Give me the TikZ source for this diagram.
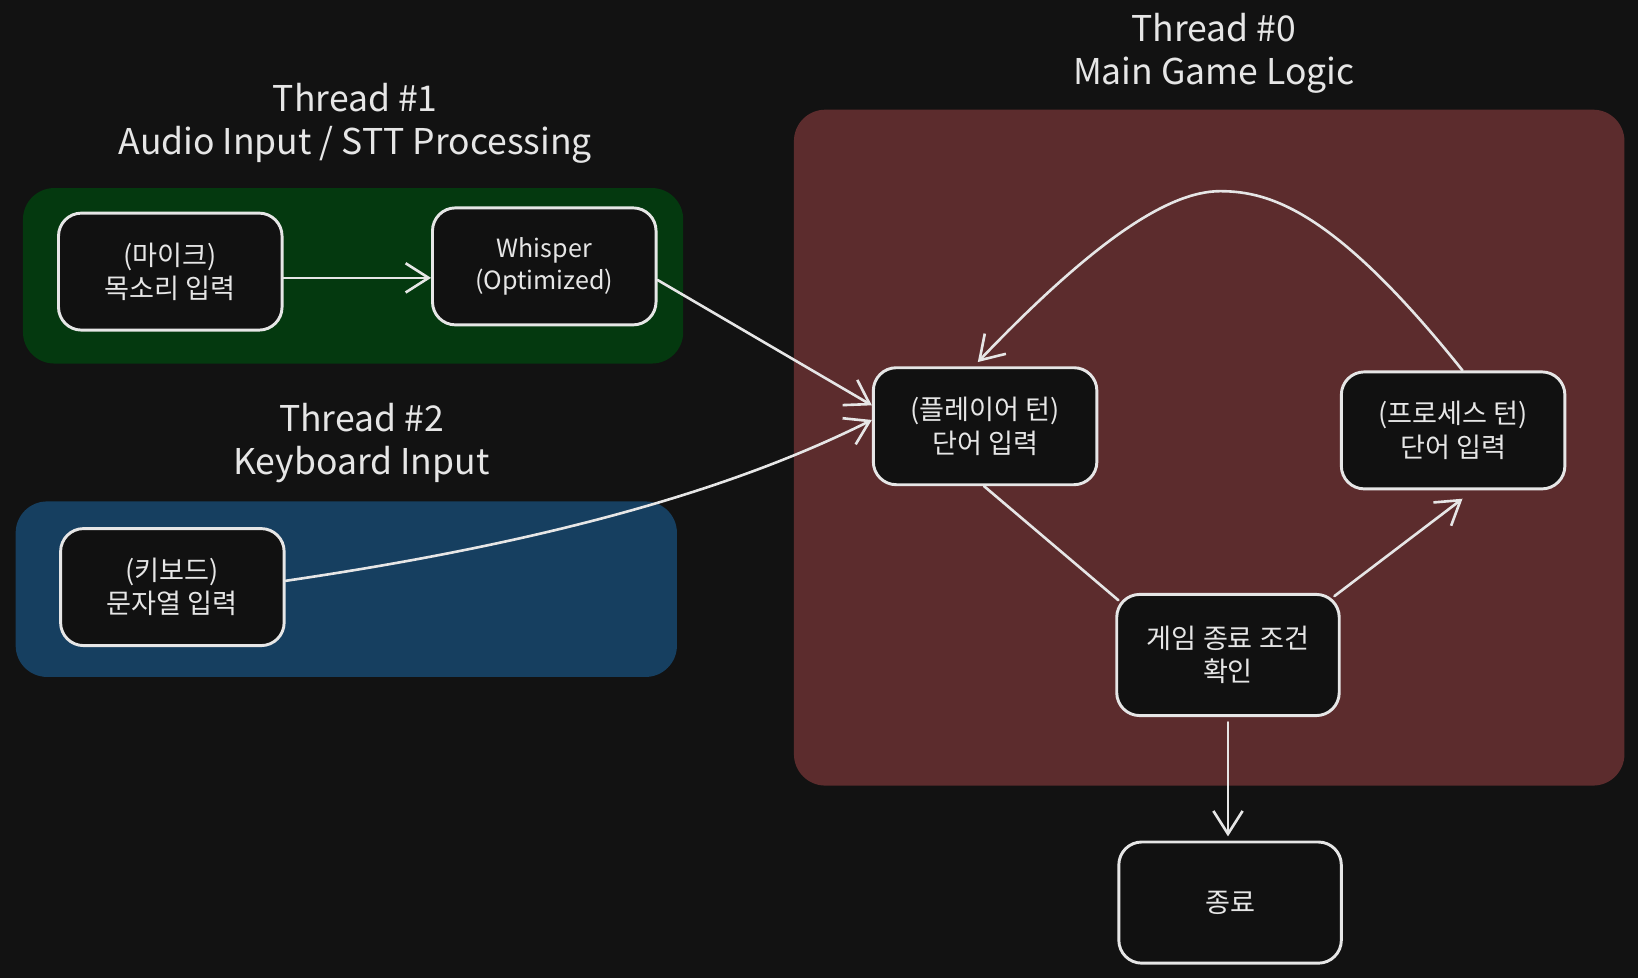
\documentclass[tikz,border=0pt]{standalone}
\usepackage{fontspec}
\setmainfont{Noto Sans CJK KR}
\usetikzlibrary{arrows.meta,calc}
\definecolor{bgc}{HTML}{121212}
\definecolor{grn}{HTML}{04390F}
\definecolor{blu}{HTML}{163F60}
\definecolor{mainred}{HTML}{5C2C2D}
\definecolor{ink}{HTML}{E6E6E6}
\definecolor{boxfill}{HTML}{111111}
\tikzset{
  proc/.style={draw=ink, line width=2.8pt, fill=boxfill, rounded corners=22pt,
    minimum width=214pt, minimum height=112pt, inner sep=0pt, text=ink,
    align=center, font=\fontsize{26}{32}\selectfont},
  zone/.style={rounded corners=30pt},
  ttl/.style={text=ink, align=center, font=\fontsize{34}{41}\selectfont},
  conn/.style={draw=ink, line width=2.5pt, line cap=round},
  arr/.style={conn, -{Straight Barb[length=22pt,width=28pt,line width=2.5pt]}},
}
\begin{document}
\begin{tikzpicture}[x=1pt,y=1pt]
\fill[bgc] (0,0) rectangle (1568,-936);
\useasboundingbox (0,0) rectangle (1568,-936);
% zones
\fill[grn, zone] (22,-180) rectangle (654,-348);
\fill[blu, zone] (15,-480) rectangle (648,-648);
\fill[mainred, zone] (760,-105) rectangle (1555,-752);
% titles
\node[ttl] (t1) at (340,-118) {Thread \#1\\Audio Input / STT Processing};
\node[ttl] (t2) at (346,-424) {Thread \#2\\Keyboard Input};
\node[ttl] (t0) at (1162,-51) {Thread \#0\\Main Game Logic};
% nodes
\node[proc] (mic) at (163,-260) {(마이크)\\목소리 입력};
\node[proc, font=\fontsize{24}{31}\selectfont] (whisper) at (521,-255) {Whisper\\(Optimized)};
\node[proc] (keyb) at (165,-562) {(키보드)\\문자열 입력};
\node[proc] (player) at (943,-408) {(플레이어 턴)\\단어 입력};
\node[proc] (process) at (1391,-412) {(프로세스 턴)\\단어 입력};
\node[proc, minimum width=213pt, minimum height=116pt] (check) at (1175.5,-627) {게임 종료 조건\\확인};
\node[proc, minimum width=213pt, minimum height=116pt] (endn) at (1177.5,-864) {종료};
% connectors
\draw[arr] ([yshift=-6pt]mic.east) -- ([yshift=-11pt]whisper.west);
\draw[arr] ([yshift=-13pt]whisper.east) -- ([yshift=20pt]player.west);
\draw[arr] ([yshift=6pt]keyb.east) .. controls +(246,36) and +(-136,-68) .. ([yshift=6pt]player.west);
\draw[arr] ([xshift=9pt]process.north) .. controls +(-120,150) and +(50,0) .. (1168,-183)
   .. controls +(-50,0) and +(110,115) .. ([xshift=-7pt,yshift=4pt]player.north);
\draw[conn] ([xshift=-1pt]player.south) -- ([shift={(3pt,-7pt)}]check.north west);
\draw[arr] ([shift={(-6pt,-3pt)}]check.north east) -- ([shift={(9pt,-8pt)}]process.south);
\draw[arr] ([yshift=-5pt]check.south) -- ([yshift=4pt]check.south |- endn.north);
\end{tikzpicture}
\end{document}
